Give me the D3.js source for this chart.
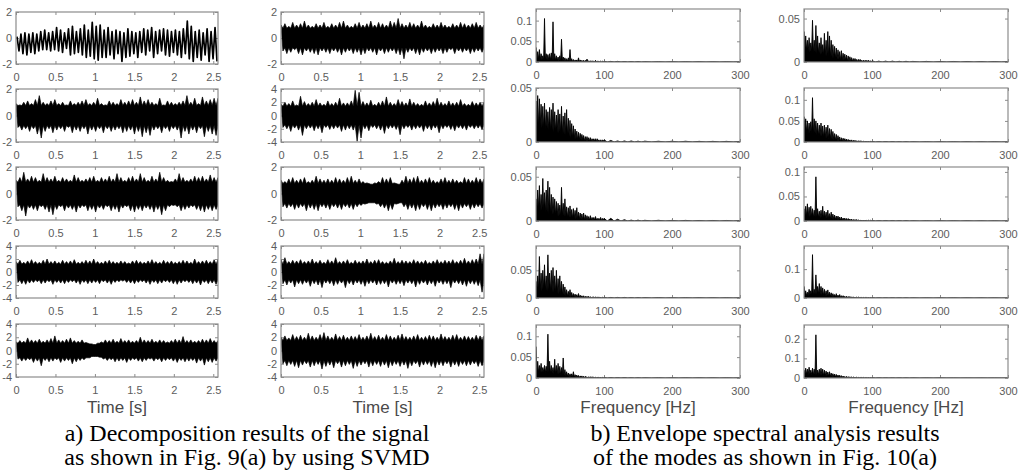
<!DOCTYPE html>
<html><head><meta charset="utf-8">
<script src="https://cdn.jsdelivr.net/npm/d3@7"></script>
<style>body{margin:0;background:#fff}svg{display:block}</style>
</head><body><svg id="c" width="1030" height="473"></svg>
<script>
// ---------- tick labels / categories ----------
const timeTicks = [0, 0.5, 1, 1.5, 2, 2.5];
const freqTicks = [0, 100, 200, 300];
const specFreq = [0,2.5,5,7.5,10,12.5,15,17.5,20,22.5,25,27.5,30,32.5,35,37.5,40,42.5,45,47.5,
  50,52.5,55,57.5,60,62.5,65,67.5,70,72.5,75,77.5,80,82.5,85,87.5,90,92.5,95,97.5,
  100,110,120,130,140,150,160,180,200,220,240,260,280];
const captionA = ["a) Decomposition results of the signal", "as shown in Fig. 9(a) by using SVMD"];
const captionB = ["b) Envelope spectral analysis results", "of the modes as shown in Fig. 10(a)"];

// ---------- mode 1 (oscillation peaks / troughs) ----------
const m1Peaks = [0.1,0.3,0.4,0.3,0.4,0.3,0.5,0.6,0.4,0.5,
 0.8,0.6,0.4,0.7,0.9,0.5,0.7,1.0,0.6,1.2,
 0.9,1.0,0.6,0.8,0.5,0.6,0.5,0.4,0.7,0.5,
 0.4,0.5,0.7,0.6,0.8,0.5,0.6,0.7,0.6,0.5,
 0.6,0.5,0.7,1.3,0.9,0.5,0.6,0.4,0.7,0.5,0.8];
const m1Troughs = [-1.0,-1.2,-1.3,-1.1,-1.2,-1.0,-0.9,-0.9,-1.0,-0.9,
 -1.0,-1.1,-0.8,-1.3,-1.2,-1.1,-1.3,-1.5,-1.4,-1.6,
 -1.7,-1.5,-1.5,-1.3,-1.6,-1.2,-1.8,-1.5,-1.4,-1.2,
 -1.5,-1.1,-1.3,-1.0,-1.5,-1.2,-1.0,-1.3,-1.4,-1.1,
 -1.3,-1.5,-1.2,-1.6,-1.8,-1.5,-1.7,-1.3,-1.8,-1.6,-1.8];

// ---------- dense modes 2..10: max / min per time bin ----------
const m2Hi = [0.9,0.8,1.0,1.1,0.9,1.2,1.5,1.0,0.9,1.1, 1.2,0.9,1.0,0.8,1.1,0.9,1.0,1.1,1.2,0.9,
 1.0,1.3,0.9,0.8,1.1,1.0,0.9,1.2,1.0,1.1, 1.2,1.0,1.4,1.1,1.2,1.0,0.9,1.3,0.8,1.1,
 1.0,0.9,1.0,1.1,1.5,1.0,1.3,0.9,1.4,1.1, 1.2,1.3];
const m2Lo = [-0.9,-1.1,-1.0,-1.2,-1.0,-1.4,-1.7,-1.2,-1.0,-1.3, -1.1,-1.0,-1.2,-0.9,-1.3,-1.1,-1.2,-1.0,-1.4,-1.1,
 -1.2,-1.0,-1.3,-1.0,-1.2,-1.1,-1.0,-1.3,-1.2,-1.1, -1.4,-1.2,-1.6,-1.3,-1.5,-1.1,-1.0,-1.3,-1.0,-1.2,
 -1.0,-1.1,-1.7,-1.2,-1.4,-1.1,-1.3,-1.0,-1.6,-1.2, -1.4,-1.5];
const m3Hi = [1.0,1.2,1.6,1.1,1.3,1.2,1.0,1.5,1.2,1.1, 1.3,1.0,1.2,1.1,1.0,1.4,1.2,1.0,1.1,1.2,
 1.3,1.0,1.2,1.1,1.3,1.1,1.5,1.2,1.0,1.2, 1.3,1.1,1.5,1.2,1.0,1.3,1.1,1.6,1.2,1.0,
 0.9,1.1,1.5,1.2,1.0,1.1,1.3,1.2,1.3,1.1, 1.4,1.2];
const m3Lo = [-1.0,-1.3,-1.7,-1.1,-1.2,-1.3,-1.0,-1.2,-1.4,-1.6, -1.2,-1.0,-1.3,-1.1,-1.2,-1.4,-1.1,-1.0,-1.3,-1.2,
 -1.4,-1.1,-1.2,-1.0,-1.3,-1.2,-1.4,-1.1,-1.0,-1.3, -1.4,-1.2,-1.3,-1.1,-1.2,-1.4,-1.2,-1.6,-1.3,-1.0,
 -0.9,-1.0,-1.3,-1.2,-1.1,-1.0,-1.2,-1.3,-1.4,-1.2, -1.3,-1.2];
const m4Hi = [1.6,1.8,1.5,1.7,1.9,1.6,1.5,1.8,2.0,1.6, 1.7,1.5,1.8,1.6,1.7,1.9,1.5,1.6,1.8,1.7,
 2.0,1.6,1.5,1.7,1.8,1.6,1.5,1.7,1.6,1.4, 1.7,1.8,1.6,1.5,1.7,1.9,1.6,1.5,1.8,1.6,
 1.7,1.5,1.6,1.8,1.7,1.5,2.0,1.6,1.7,1.8, 1.6,1.9];
const m4Lo = [-1.6,-1.8,-1.9,-1.7,-1.6,-1.5,-1.8,-1.7,-1.5,-1.9, -1.6,-1.7,-1.8,-1.6,-1.5,-1.7,-1.9,-1.6,-1.8,-1.7,
 -1.6,-1.8,-1.5,-1.7,-1.9,-1.6,-1.5,-1.4,-1.6,-1.7, -1.8,-1.6,-1.5,-1.7,-1.9,-1.6,-1.8,-1.7,-1.5,-1.6,
 -1.8,-1.9,-1.7,-1.5,-1.6,-1.8,-1.7,-2.0,-1.6,-1.8, -1.7,-1.9];
const m5Hi = [1.3,1.5,1.4,1.9,1.6,1.5,1.7,1.4,1.6,1.8, 2.2,1.6,1.5,1.7,1.9,1.5,1.4,1.6,1.2,1.0,
 0.9,1.1,1.3,1.6,1.5,1.7,1.4,1.8,1.5,1.6, 1.4,1.5,2.0,1.6,1.5,1.7,1.4,1.6,1.5,1.3,
 1.5,1.7,1.6,2.1,1.5,1.6,1.4,1.5,1.7,1.6, 1.8,1.5];
const m5Lo = [-1.3,-1.6,-1.5,-1.4,-1.8,-1.6,-2.3,-1.5,-1.7,-1.6, -1.4,-1.8,-1.6,-1.5,-2.0,-1.7,-1.5,-1.4,-1.1,-0.9,
 -0.9,-1.0,-1.3,-1.5,-1.4,-1.7,-1.6,-1.5,-1.8,-1.5, -1.4,-1.6,-1.7,-1.5,-1.3,-1.6,-1.4,-1.7,-1.5,-1.4,
 -1.6,-1.8,-1.5,-1.7,-1.6,-1.5,-1.9,-1.6,-2.2,-1.7, -1.8,-1.6];
const m6Hi = [1.0,1.1,0.9,1.2,1.0,1.1,1.3,1.0,0.9,1.1, 1.0,1.2,0.9,1.1,1.0,1.2,1.3,1.0,0.9,1.1,
 1.2,1.0,1.1,1.3,1.0,1.2,1.1,1.0,1.3,1.2, 1.5,1.1,1.0,1.2,1.1,1.0,1.3,1.0,0.9,1.1,
 1.0,1.2,1.0,0.9,1.1,1.0,1.2,1.1,1.0,1.1, 1.2,1.0];
const m6Lo = [-1.0,-1.2,-1.1,-0.9,-1.2,-1.3,-1.0,-1.1,-1.2,-1.3, -1.0,-1.1,-1.2,-1.0,-1.1,-1.3,-1.1,-1.0,-1.2,-1.1,
 -1.3,-1.2,-1.0,-1.1,-1.3,-1.0,-1.2,-1.1,-1.0,-1.2, -1.3,-1.6,-1.1,-1.0,-1.2,-1.3,-1.1,-1.0,-1.2,-1.1,
 -1.0,-1.2,-1.1,-0.9,-1.2,-1.0,-1.1,-1.0,-1.2,-1.1, -1.0,-1.1];
const m7Hi = [1.7,2.0,1.8,2.2,1.6,2.9,2.1,1.8,2.0,2.4, 1.9,1.7,2.2,1.8,2.0,2.6,1.9,1.9,2.2,3.8,
 3.5,2.1,1.9,2.3,1.7,2.0,2.2,2.8,2.0,1.8, 2.4,2.1,1.9,2.5,2.0,1.8,1.7,2.2,1.9,2.1,
 2.6,2.0,1.8,2.2,1.9,2.0,2.4,1.8,1.7,2.1, 1.9,2.0];
const m7Lo = [-1.8,-2.0,-2.4,-1.9,-2.2,-3.0,-2.0,-1.9,-2.3,-2.0, -2.6,-1.8,-2.1,-2.0,-1.9,-2.4,-2.2,-2.0,-2.2,-3.9,
 -3.4,-2.0,-2.3,-1.8,-2.0,-2.2,-2.7,-2.0,-1.9,-2.1, -2.9,-2.0,-1.8,-2.2,-2.0,-1.9,-2.4,-2.0,-2.2,-1.9,
 -2.6,-2.0,-1.8,-2.1,-2.3,-1.9,-2.0,-2.2,-1.8,-2.0, -1.9,-2.1];
const m8Hi = [1.0,0.9,1.1,1.2,1.0,1.1,1.2,0.9,1.0,1.3, 1.1,1.0,1.1,1.0,1.2,1.1,1.0,1.2,1.3,1.0,
 1.1,0.9,0.8,0.7,0.8,0.9,1.2,1.1,1.2,0.8, 0.7,1.0,1.3,1.1,1.2,1.3,1.0,1.1,1.2,1.0,
 0.9,1.1,1.2,1.0,1.1,1.0,0.9,1.2,1.1,1.0, 1.2,1.1];
const m8Lo = [-1.0,-1.1,-1.0,-1.2,-1.1,-1.0,-1.3,-1.1,-1.2,-1.3, -1.0,-1.1,-1.2,-1.0,-1.1,-1.2,-1.0,-1.1,-1.2,-1.0,
 -0.9,-0.8,-0.7,-0.7,-0.8,-1.0,-1.1,-1.3,-1.2,-0.8, -0.7,-1.0,-1.2,-1.1,-1.3,-1.2,-1.0,-1.2,-1.3,-1.1,
 -1.0,-1.2,-1.1,-1.0,-1.2,-1.3,-1.1,-1.0,-1.2,-1.1, -1.0,-1.1];
const m9Hi = [1.9,2.2,1.6,1.8,1.7,1.9,1.6,1.7,2.0,1.6, 1.8,1.5,1.9,1.7,2.2,1.6,1.7,1.9,1.5,1.8,
 1.6,1.7,2.0,1.6,1.8,1.9,1.6,1.5,1.7,2.1, 1.6,1.8,1.7,1.6,1.9,1.7,1.6,1.8,1.5,1.7,
 1.9,1.6,1.8,1.7,1.9,1.6,1.8,2.1,1.7,1.9, 2.0,2.8];
const m9Lo = [-1.8,-2.0,-1.7,-2.3,-1.8,-1.9,-1.7,-2.2,-1.8,-2.0, -2.4,-1.7,-1.8,-2.1,-1.9,-1.7,-2.4,-1.8,-2.0,-1.7,
 -1.9,-2.2,-1.8,-1.7,-2.0,-1.9,-1.8,-2.3,-1.7,-1.9, -1.8,-2.1,-1.7,-1.8,-2.3,-1.9,-1.7,-2.0,-1.8,-2.2,
 -1.7,-1.9,-1.8,-2.4,-1.7,-1.8,-2.0,-2.2,-1.8,-1.9, -2.1,-3.1];
const m10Hi = [2.0,2.2,1.9,2.4,2.1,2.3,2.0,2.6,2.2,2.0, 2.4,2.7,2.2,2.0,2.5,2.1,2.3,2.0,2.2,2.1,
 2.4,2.0,2.2,2.6,2.1,2.3,2.0,2.4,2.2,2.0, 2.3,2.5,2.1,2.0,2.2,2.4,2.0,2.1,2.3,2.2,
 2.0,2.5,2.1,2.0,2.3,2.4,2.0,2.2,2.1,2.0, 2.3,2.2];
const m10Lo = [-2.0,-2.3,-2.1,-2.4,-2.6,-2.2,-2.0,-2.5,-2.3,-2.1, -2.8,-2.4,-2.2,-2.6,-2.0,-2.5,-2.3,-2.1,-2.7,-2.4,
 -2.2,-2.0,-2.5,-2.3,-2.1,-2.4,-2.2,-2.6,-2.3,-2.1, -2.4,-2.2,-2.7,-2.3,-2.0,-2.5,-2.2,-2.1,-2.4,-2.6,
 -2.2,-2.3,-2.0,-2.5,-2.2,-2.4,-2.1,-2.3,-2.2,-2.0, -2.4,-2.3];
// half-width of the solid dark core of modes 2..10
const modeCore = [0.75, 0.85, 1.2, 1.1, 0.75, 1.4, 0.75, 1.2, 1.5];

// ---------- envelope spectra: max / min per frequency bin ----------
const s1Hi = [0.035,0.025,0.030,0.020,0.015,0.105,0.020,0.018,0.020,0.022, 0.097,0.020,0.015,0.012,0.015,0.055,0.012,0.010,0.008,0.010,
 0.030,0.008,0.006,0.005,0.005,0.010,0.005,0.004,0.004,0.004, 0.007,0.003,0.003,0.003,0.002,0.004,0.002,0.002,0.002,0.002,
 0.002,0.0015,0.0015,0.001,0.001,0.001,0.0008,0.0008,0.0008,0.0007,0.0007,0.0006,0.0006];
const s1Lo = [0.006,0.007,0.006,0.006,0.005,0.006,0.006,0.005,0.005,0.005, 0.005,0.004,0.004,0.003,0.003,0.003,0.003,0.002,0.002,0.002,
 0.002,0.001,0.001,0.001,0.001,0.001,0.001,0.001,0.0005,0.0005, 0.0005,0.0005,0.0005,0.0005,0.0005,0.0005,0.0005,0,0,0,
 0,0,0,0,0,0,0,0,0,0,0,0,0];
const s2Hi = [0.038,0.043,0.040,0.035,0.033,0.036,0.030,0.028,0.032,0.030, 0.036,0.028,0.025,0.030,0.026,0.033,0.024,0.027,0.030,0.022,
 0.020,0.017,0.015,0.012,0.010,0.009,0.008,0.007,0.006,0.005, 0.005,0.004,0.004,0.003,0.003,0.003,0.003,0.002,0.002,0.002,
 0.002,0.0015,0.001,0.001,0.001,0.0008,0.0008,0.0007,0.0007,0.0007,0.0006,0.0006,0.0006];
const s2Lo = [0.012,0.014,0.015,0.013,0.012,0.011,0.013,0.011,0.010,0.011, 0.009,0.010,0.008,0.008,0.008,0.007,0.007,0.006,0.006,0.005,
 0.004,0.004,0.003,0.003,0.002,0.002,0.002,0.002,0.001,0.001, 0.001,0.001,0.001,0.001,0.001,0.0005,0.0005,0.0005,0.0005,0.0005,
 0,0,0,0,0,0,0,0,0,0,0,0,0];
const s3Hi = [0.025,0.035,0.040,0.030,0.048,0.032,0.035,0.045,0.038,0.030, 0.027,0.025,0.022,0.020,0.018,0.038,0.020,0.025,0.016,0.015,
 0.017,0.013,0.014,0.012,0.015,0.010,0.009,0.008,0.009,0.007, 0.006,0.005,0.006,0.004,0.004,0.005,0.003,0.003,0.004,0.003,
 0.003,0.003,0.002,0.0015,0.001,0.001,0.0008,0.0008,0.0007,0.0007,0.0006,0.0006,0.0006];
const s3Lo = [0.012,0.014,0.011,0.012,0.011,0.009,0.010,0.008,0.008,0.007, 0.008,0.007,0.006,0.005,0.005,0.006,0.005,0.005,0.004,0.004,
 0.004,0.003,0.003,0.002,0.002,0.002,0.002,0.001,0.001,0.001, 0.001,0.001,0.001,0.001,0.001,0.001,0.0005,0.0005,0.0005,0.0005,
 0,0,0,0,0,0,0,0,0,0,0,0,0];
const s4Hi = [0.030,0.040,0.075,0.045,0.050,0.060,0.040,0.078,0.045,0.050, 0.055,0.040,0.050,0.035,0.040,0.030,0.025,0.020,0.015,0.012,
 0.015,0.010,0.008,0.007,0.006,0.008,0.005,0.004,0.004,0.003, 0.003,0.003,0.002,0.002,0.002,0.002,0.002,0.002,0.0015,0.0015,
 0.0015,0.001,0.001,0.001,0.0008,0.0008,0.0007,0.0007,0.0006,0.0006,0.0006,0.0005,0.0005];
const s4Lo = [0.014,0.016,0.014,0.012,0.016,0.014,0.012,0.014,0.012,0.011, 0.010,0.009,0.008,0.007,0.006,0.005,0.005,0.004,0.003,0.003,
 0.002,0.002,0.002,0.001,0.001,0.001,0.001,0.001,0.001,0.0005, 0.0005,0.0005,0.0005,0.0005,0.0005,0,0,0,0,0,
 0,0,0,0,0,0,0,0,0,0,0,0,0];
const s5Hi = [0.075,0.040,0.030,0.035,0.025,0.030,0.028,0.105,0.040,0.030, 0.025,0.045,0.030,0.035,0.028,0.025,0.048,0.020,0.015,0.012,
 0.010,0.010,0.015,0.008,0.007,0.006,0.005,0.005,0.004,0.004, 0.003,0.003,0.003,0.003,0.002,0.002,0.002,0.002,0.002,0.0015,
 0.0015,0.001,0.001,0.001,0.0008,0.0008,0.0007,0.0007,0.0006,0.0006,0.0006,0.0005,0.0005];
const s5Lo = [0.012,0.014,0.015,0.014,0.015,0.013,0.015,0.013,0.012,0.012, 0.010,0.010,0.009,0.009,0.008,0.007,0.006,0.005,0.004,0.003,
 0.003,0.003,0.002,0.002,0.002,0.001,0.001,0.001,0.001,0.001, 0.0005,0.0005,0.0005,0.0005,0.0005,0,0,0,0,0,
 0,0,0,0,0,0,0,0,0,0,0,0,0];
const s6Hi = [0.035,0.030,0.025,0.028,0.022,0.048,0.025,0.042,0.030,0.022, 0.028,0.020,0.033,0.025,0.035,0.030,0.025,0.020,0.018,0.016,
 0.014,0.012,0.013,0.010,0.009,0.008,0.007,0.006,0.005,0.004, 0.004,0.003,0.003,0.003,0.002,0.002,0.002,0.002,0.002,0.0015,
 0.0015,0.001,0.001,0.001,0.0008,0.0008,0.0007,0.0007,0.0006,0.0006,0.0006,0.0005,0.0005];
const s6Lo = [0.013,0.014,0.012,0.011,0.012,0.010,0.011,0.009,0.010,0.008, 0.009,0.008,0.007,0.007,0.006,0.005,0.005,0.004,0.004,0.003,
 0.003,0.002,0.002,0.002,0.002,0.001,0.001,0.001,0.001,0.001, 0.001,0.0005,0.0005,0.0005,0.0005,0.0005,0,0,0,0,
 0,0,0,0,0,0,0,0,0,0,0,0,0];
const s7Hi = [0.060,0.055,0.050,0.045,0.048,0.105,0.055,0.050,0.045,0.040, 0.045,0.038,0.040,0.035,0.040,0.032,0.030,0.025,0.020,0.018,
 0.015,0.012,0.010,0.009,0.008,0.007,0.006,0.005,0.005,0.004, 0.004,0.003,0.003,0.003,0.002,0.002,0.002,0.002,0.002,0.0015,
 0.0015,0.001,0.001,0.001,0.0008,0.0008,0.0007,0.0007,0.0006,0.0006,0.0006,0.0005,0.0005];
const s7Lo = [0.028,0.024,0.020,0.022,0.020,0.018,0.020,0.016,0.015,0.015, 0.013,0.011,0.010,0.009,0.008,0.007,0.006,0.005,0.004,0.003,
 0.003,0.002,0.002,0.002,0.002,0.001,0.001,0.001,0.001,0.001, 0.0005,0.0005,0.0005,0.0005,0.0005,0,0,0,0,0,
 0,0,0,0,0,0,0,0,0,0,0,0,0];
const s8Hi = [0.025,0.030,0.035,0.028,0.030,0.025,0.022,0.090,0.025,0.020, 0.022,0.030,0.020,0.018,0.022,0.015,0.018,0.014,0.012,0.010,
 0.010,0.008,0.008,0.006,0.006,0.005,0.005,0.004,0.004,0.003, 0.003,0.003,0.002,0.002,0.002,0.002,0.002,0.0015,0.0015,0.0015,
 0.0015,0.001,0.001,0.001,0.0008,0.0008,0.0007,0.0007,0.0006,0.0006,0.0006,0.0005,0.0005];
const s8Lo = [0.008,0.010,0.009,0.008,0.009,0.007,0.008,0.008,0.007,0.006, 0.007,0.006,0.006,0.005,0.005,0.004,0.004,0.003,0.003,0.003,
 0.002,0.002,0.001,0.001,0.001,0.001,0.001,0.0005,0.0005,0.0005, 0.0005,0.0005,0.0005,0,0,0,0,0,0,0,
 0,0,0,0,0,0,0,0,0,0,0,0,0];
const s9Hi = [0.040,0.025,0.020,0.030,0.025,0.150,0.030,0.080,0.040,0.050, 0.040,0.035,0.030,0.025,0.028,0.020,0.018,0.015,0.012,0.015,
 0.010,0.012,0.008,0.008,0.006,0.006,0.005,0.005,0.004,0.004, 0.003,0.003,0.003,0.002,0.002,0.002,0.002,0.002,0.0015,0.0015,
 0.0015,0.001,0.001,0.001,0.0008,0.0008,0.0007,0.0007,0.0006,0.0006,0.0006,0.0005,0.0005];
const s9Lo = [0.014,0.008,0.008,0.012,0.010,0.009,0.014,0.012,0.014,0.012, 0.011,0.009,0.008,0.007,0.007,0.006,0.005,0.004,0.004,0.003,
 0.002,0.002,0.002,0.001,0.001,0.001,0.001,0.001,0.0005,0.0005, 0.0005,0.0005,0.0005,0,0,0,0,0,0,0,
 0,0,0,0,0,0,0,0,0,0,0,0,0];
const s10Hi = [0.040,0.050,0.045,0.055,0.040,0.050,0.045,0.220,0.040,0.045, 0.050,0.045,0.040,0.035,0.030,0.032,0.025,0.022,0.020,0.018,
 0.015,0.014,0.012,0.010,0.008,0.008,0.007,0.006,0.005,0.005, 0.004,0.004,0.003,0.003,0.003,0.003,0.002,0.002,0.002,0.002,
 0.002,0.0015,0.001,0.001,0.001,0.0008,0.0008,0.0007,0.0007,0.0006,0.0006,0.0006,0.0005];
const s10Lo = [0.015,0.020,0.018,0.020,0.017,0.015,0.017,0.015,0.017,0.015, 0.014,0.012,0.011,0.010,0.009,0.008,0.007,0.006,0.005,0.004,
 0.004,0.003,0.003,0.002,0.002,0.001,0.001,0.001,0.001,0.001, 0.001,0.0005,0.0005,0.0005,0.0005,0,0,0,0,0,
 0,0,0,0,0,0,0,0,0,0,0,0,0];

// ---------- layout ----------
const svg = d3.select("#c");
const timeCols = [[16, 218], [281, 484]];
const freqCols = [[536, 740], [804, 1008]];
const timeRows = [[12, 64], [89, 142], [167, 220], [246, 298], [324, 377]];
const freqRows = [[9, 62], [88, 142], [167, 221], [246, 298], [325, 378]];
const TMAX = 2.56, FMAX = 300;
const AX = "#8c8c8c", TXT = "#5c5c5c", FONT = "'Liberation Sans', Arial, sans-serif";

const timePanels = [
  {c:0,r:0,osc:[m1Peaks,m1Troughs],y:[-2,2],yt:[-2,0,2]},
  {c:0,r:1,hi:m2Hi,lo:m2Lo,core:modeCore[0],y:[-2,2],yt:[-2,0,2]},
  {c:0,r:2,hi:m3Hi,lo:m3Lo,core:modeCore[1],y:[-2,2],yt:[-2,0,2]},
  {c:0,r:3,hi:m4Hi,lo:m4Lo,core:modeCore[2],y:[-4,4],yt:[-4,-2,0,2,4]},
  {c:0,r:4,hi:m5Hi,lo:m5Lo,core:modeCore[3],y:[-4,4],yt:[-4,-2,0,2,4]},
  {c:1,r:0,hi:m6Hi,lo:m6Lo,core:modeCore[4],y:[-2,2],yt:[-2,0,2]},
  {c:1,r:1,hi:m7Hi,lo:m7Lo,core:modeCore[5],y:[-4,4],yt:[-4,-2,0,2,4]},
  {c:1,r:2,hi:m8Hi,lo:m8Lo,core:modeCore[6],y:[-2,2],yt:[-2,0,2]},
  {c:1,r:3,hi:m9Hi,lo:m9Lo,core:modeCore[7],y:[-4,4],yt:[-4,-2,0,2,4]},
  {c:1,r:4,hi:m10Hi,lo:m10Lo,core:modeCore[8],y:[-4,4],yt:[-4,-2,0,2,4]}
];
const specPanels = [
  {c:0,r:0,hi:s1Hi,lo:s1Lo,y:[0,0.128],yt:[0,0.05,0.1]},
  {c:0,r:1,hi:s2Hi,lo:s2Lo,y:[0,0.05],yt:[0,0.05]},
  {c:0,r:2,hi:s3Hi,lo:s3Lo,y:[0,0.061],yt:[0,0.05]},
  {c:0,r:3,hi:s4Hi,lo:s4Lo,y:[0,0.094],yt:[0,0.05]},
  {c:0,r:4,hi:s5Hi,lo:s5Lo,y:[0,0.127],yt:[0,0.05,0.1]},
  {c:1,r:0,hi:s6Hi,lo:s6Lo,y:[0,0.061],yt:[0,0.05]},
  {c:1,r:1,hi:s7Hi,lo:s7Lo,y:[0,0.128],yt:[0,0.05,0.1]},
  {c:1,r:2,hi:s8Hi,lo:s8Lo,y:[0,0.11],yt:[0,0.05,0.1]},
  {c:1,r:3,hi:s9Hi,lo:s9Lo,y:[0,0.18],yt:[0,0.1]},
  {c:1,r:4,hi:s10Hi,lo:s10Lo,y:[0,0.27],yt:[0,0.1,0.2]}
];

let clipId = 0;
function frame(x0, x1, y0, y1, xs, ys, xt, yt) {
  const g = svg.append("g");
  const id = "clip" + (clipId++);
  svg.append("clipPath").attr("id", id).append("rect")
    .attr("x", x0).attr("y", y0).attr("width", x1 - x0).attr("height", y1 - y0);
  const fmt = d => String(d);
  const axB = g.append("g").attr("transform", `translate(0,${y1})`)
    .call(d3.axisBottom(xs).tickValues(xt).tickFormat(fmt).tickSizeInner(-3).tickSizeOuter(0).tickPadding(9));
  const axT = g.append("g").attr("transform", `translate(0,${y0})`)
    .call(d3.axisTop(xs).tickValues(xt).tickFormat("").tickSizeInner(-3).tickSizeOuter(0));
  const axL = g.append("g").attr("transform", `translate(${x0},0)`)
    .call(d3.axisLeft(ys).tickValues(yt).tickFormat(fmt).tickSizeInner(-3).tickSizeOuter(0).tickPadding(4));
  const axR = g.append("g").attr("transform", `translate(${x1},0)`)
    .call(d3.axisRight(ys).tickValues(yt).tickFormat("").tickSizeInner(-3).tickSizeOuter(0));
  [axB, axT, axL, axR].forEach(a => {
    a.select(".domain").remove();
    a.selectAll(".tick line").attr("stroke", AX);
    a.selectAll("text").attr("fill", TXT).style("font-family", FONT).style("font-size", "11px");
  });
  return {g, id};
}
function box(g, x0, x1, y0, y1) {
  g.append("rect").attr("x", x0).attr("y", y0).attr("width", x1 - x0).attr("height", y1 - y0)
    .attr("fill", "none").attr("stroke", AX).attr("stroke-width", 1.2);
}
const lineGen = (xs, ys) => d3.line().x(d => xs(d[0])).y(d => ys(d[1]));

// time-domain panels
timePanels.forEach(p => {
  const [x0, x1] = timeCols[p.c], [y0, y1] = timeRows[p.r];
  const xs = d3.scaleLinear().domain([0, TMAX]).range([x0, x1]);
  const ys = d3.scaleLinear().domain(p.y).range([y1, y0]);
  const {g, id} = frame(x0, x1, y0, y1, xs, ys, timeTicks, p.yt);
  if (p.osc) {
    const [pk, tr] = p.osc, per = TMAX / pk.length, pts = [];
    pk.forEach((v, i) => { pts.push([(i + 0.25) * per, v]); pts.push([(i + 0.75) * per, tr[i]]); });
    g.append("path").attr("clip-path", `url(#${id})`)
      .attr("d", lineGen(xs, ys)(pts))
      .attr("fill", "none").attr("stroke", "#000").attr("stroke-width", 1.7)
      .attr("stroke-linejoin", "round");
  } else {
    const n = Math.min(p.hi.length, p.lo.length), dt = TMAX / n;
    const up = [], dn = [];
    for (let i = 0; i < n; i++) {
      up.push([i * dt, p.hi[i]]);
      up.push([(i + 0.5) * dt, Math.min(p.core, p.hi[i])]);
      dn.push([(i + 0.5) * dt, p.lo[i]]);
      dn.push([(i + 1) * dt, Math.max(-p.core, p.lo[i])]);
    }
    up.push([TMAX, p.hi[n - 1]]);
    const pts = up.concat(dn.reverse());
    g.append("path").attr("clip-path", `url(#${id})`)
      .attr("d", lineGen(xs, ys)(pts) + "Z")
      .attr("fill", "#000").attr("stroke", "#000").attr("stroke-width", 0.7)
      .attr("stroke-linejoin", "miter");
  }
  box(g, x0, x1, y0, y1);
});

// spectral panels: comb between max and min of each bin, filled down to zero
specPanels.forEach(p => {
  const [x0, x1] = freqCols[p.c], [y0, y1] = freqRows[p.r];
  const xs = d3.scaleLinear().domain([0, FMAX]).range([x0, x1]);
  const ys = d3.scaleLinear().domain(p.y).range([y1, y0]);
  const {g, id} = frame(x0, x1, y0, y1, xs, ys, freqTicks, p.yt);
  const n = Math.min(p.hi.length, p.lo.length, specFreq.length);
  const pts = [[0, 0]];
  for (let i = 0; i < n; i++) {
    const f0 = specFreq[i], f1 = i + 1 < specFreq.length ? specFreq[i + 1] : FMAX;
    pts.push([f0, p.hi[i]]); pts.push([(f0 + f1) / 2, p.lo[i]]);
  }
  pts.push([FMAX, p.hi[n - 1]]); pts.push([FMAX, 0]);
  g.append("path").attr("clip-path", `url(#${id})`)
    .attr("d", lineGen(xs, ys)(pts) + "Z")
    .attr("fill", "#000").attr("stroke", "#000").attr("stroke-width", 0.9)
    .attr("stroke-linejoin", "miter");
  box(g, x0, x1, y0, y1);
});

// axis titles
const labels = [
  {x: (timeCols[0][0] + timeCols[0][1]) / 2, t: "Time [s]"},
  {x: (timeCols[1][0] + timeCols[1][1]) / 2, t: "Time [s]"},
  {x: (freqCols[0][0] + freqCols[0][1]) / 2, t: "Frequency [Hz]"},
  {x: (freqCols[1][0] + freqCols[1][1]) / 2, t: "Frequency [Hz]"}
];
svg.selectAll("text.axlab").data(labels).join("text").attr("class", "axlab")
  .attr("x", d => d.x).attr("y", 413).attr("text-anchor", "middle")
  .attr("fill", "#4a4a4a").style("font-family", FONT).style("font-size", "17px").text(d => d.t);

// captions
function caption(lines, cx) {
  lines.forEach((t, i) => {
    svg.append("text").attr("x", cx).attr("y", 441 + i * 24).attr("text-anchor", "middle")
      .attr("fill", "#000").style("font-family", "'Liberation Serif', 'Times New Roman', serif")
      .style("font-size", "24px").text(t);
  });
}
caption(captionA, 247);
caption(captionB, 765);
</script>
</body></html>
